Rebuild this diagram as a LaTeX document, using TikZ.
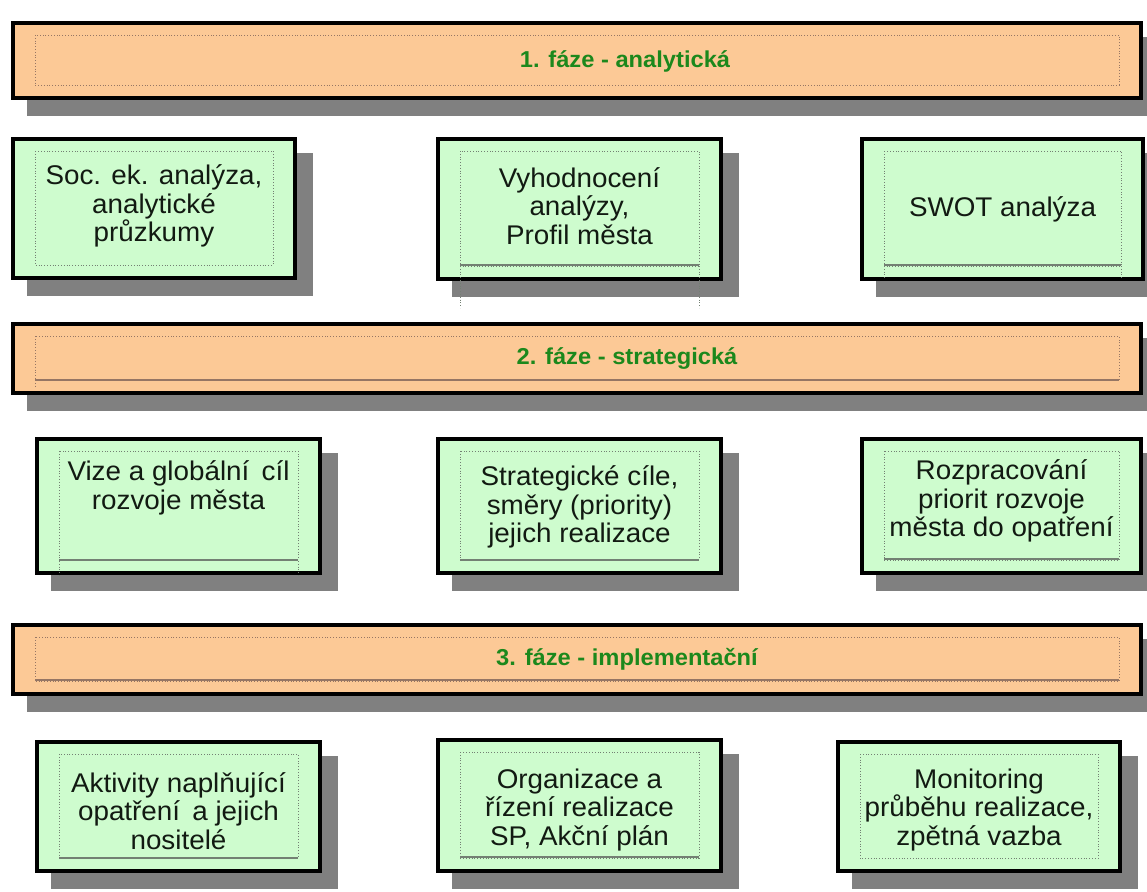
\documentclass[tikz,border=0pt]{standalone}
\usepackage{fontspec}
\setmainfont{Liberation Sans}
\newfontfamily\panelfont[FakeStretch=1.03]{Liberation Sans}

\definecolor{barorange}{RGB}{252,201,150}
\definecolor{boxgreen}{RGB}{206,252,206}
\definecolor{shadowgray}{RGB}{128,128,128}
\definecolor{barline}{RGB}{150,118,100}
\definecolor{boxline}{RGB}{115,128,115}
\definecolor{phasegreen}{RGB}{28,136,28}
\definecolor{textblack}{RGB}{18,26,18}

\tikzset{
  shadowfill/.style={fill=shadowgray},
  barframe/.style={draw=black, line width=4pt, fill=barorange},
  boxframe/.style={draw=black, line width=4pt, fill=boxgreen},
  barinner/.style={draw=barline, line width=0.8pt, dotted},
  boxinner/.style={draw=boxline, line width=0.8pt, dotted},
  baredge/.style={draw=barline, line width=1.1pt},
  boxedge/.style={draw=boxline, line width=1.1pt},
  phasetext/.style={font=\panelfont\bfseries\fontsize{23}{26}\selectfont, text=phasegreen},
  steptext/.style={font=\panelfont\fontsize{27}{28.5}\selectfont, text=textblack, align=center},
}

% shadow, thick frame and dotted inner frame of one panel (outer corners given)
\newcommand{\framedpanel}[6]{%
  \fill[shadowfill] ({#1+16},{#2+16}) rectangle ({#3+16},{#4+16});
  \path[#5] ({#1+2},{#2+2}) rectangle ({#3-2},{#4-2});
  \path[#6] ({#1+24},{#2+14}) rectangle ({#3-24},{#4-15});
}

\begin{document}
\begin{tikzpicture}[x=1pt,y=-1pt]
\useasboundingbox (0,0) rectangle (1147,891);
\fill[white] (0,0) rectangle (1147,891);

% ---- phase 1 ----
\framedpanel{11}{21}{1143}{100}{barframe}{barinner}
\node[phasetext] (p1) at (625,61) {1. fáze - analytická};

\framedpanel{11}{137}{297}{280}{boxframe}{boxinner}
\node[steptext] (a1) at (154,206) {Soc. ek. analýza,\\analytické\\průzkumy};

\framedpanel{436}{137}{723}{281}{boxframe}{boxinner}
\draw[boxedge] (460,265) -- (699,265);
\draw[boxinner] (460,266) -- (460,308) (699,266) -- (699,308);
\node[steptext] (a2) at (579.5,206) {Vyhodnocení\\analýzy,\\Profil města};

\framedpanel{860}{137}{1145}{281}{boxframe}{boxinner}
\draw[boxedge] (884,265) -- (1121,265);
\draw[boxinner] (884,266) -- (884,278) (1121,266) -- (1121,278);
\node[steptext] (a3) at (1002.5,209) {SWOT analýza};

% ---- phase 2 ----
\framedpanel{11}{322}{1143}{395}{barframe}{barinner}
\draw[baredge] (35,380) -- (1119,380);
\draw[barinner] (35,380) -- (35,386);
\node[phasetext] (p2) at (627,358) {2. fáze - strategická};

\framedpanel{35}{437}{322}{575}{boxframe}{boxinner}
\draw[boxedge] (59,560) -- (298,560);
\draw[boxinner] (59,561) -- (59,577) (298,561) -- (298,577);
\node[steptext] (b1) at (178.5,488) {Vize a globální\, cíl\\rozvoje města};

\framedpanel{436}{437}{723}{575}{boxframe}{boxinner}
\draw[boxedge] (460,560) -- (699,560);
\node[steptext] (b2) at (579.5,507) {Strategické cíle,\\směry (priority)\\jejich realizace};

\framedpanel{860}{437}{1143}{575}{boxframe}{boxinner}
\draw[boxedge] (884,559) -- (1119,559);
\node[steptext] (b3) at (1001.5,501) {Rozpracování\\priorit rozvoje\\města do opatření};

% ---- phase 3 ----
\framedpanel{11}{623}{1143}{696}{barframe}{barinner}
\draw[baredge] (35,680) -- (1119,680);
\node[phasetext] (p3) at (627,659) {3. fáze - implementační};

\framedpanel{35}{740}{322}{873}{boxframe}{boxinner}
\draw[boxedge] (59,858) -- (298,858);
\node[steptext] (c1) at (178.5,811) {Aktivity naplňující\\opatření\, a jejich\\nositelé};

\framedpanel{436}{738}{723}{873}{boxframe}{boxinner}
\draw[boxedge] (460,857) -- (699,857);
\node[steptext] (c2) at (579.5,810) {Organizace a\\řízení realizace\\SP, Akční plán};

\framedpanel{836}{740}{1122}{873}{boxframe}{boxinner}
\node[steptext] (c3) at (979,810) {Monitoring\\průběhu realizace,\\zpětná vazba};
\end{tikzpicture}
\end{document}
